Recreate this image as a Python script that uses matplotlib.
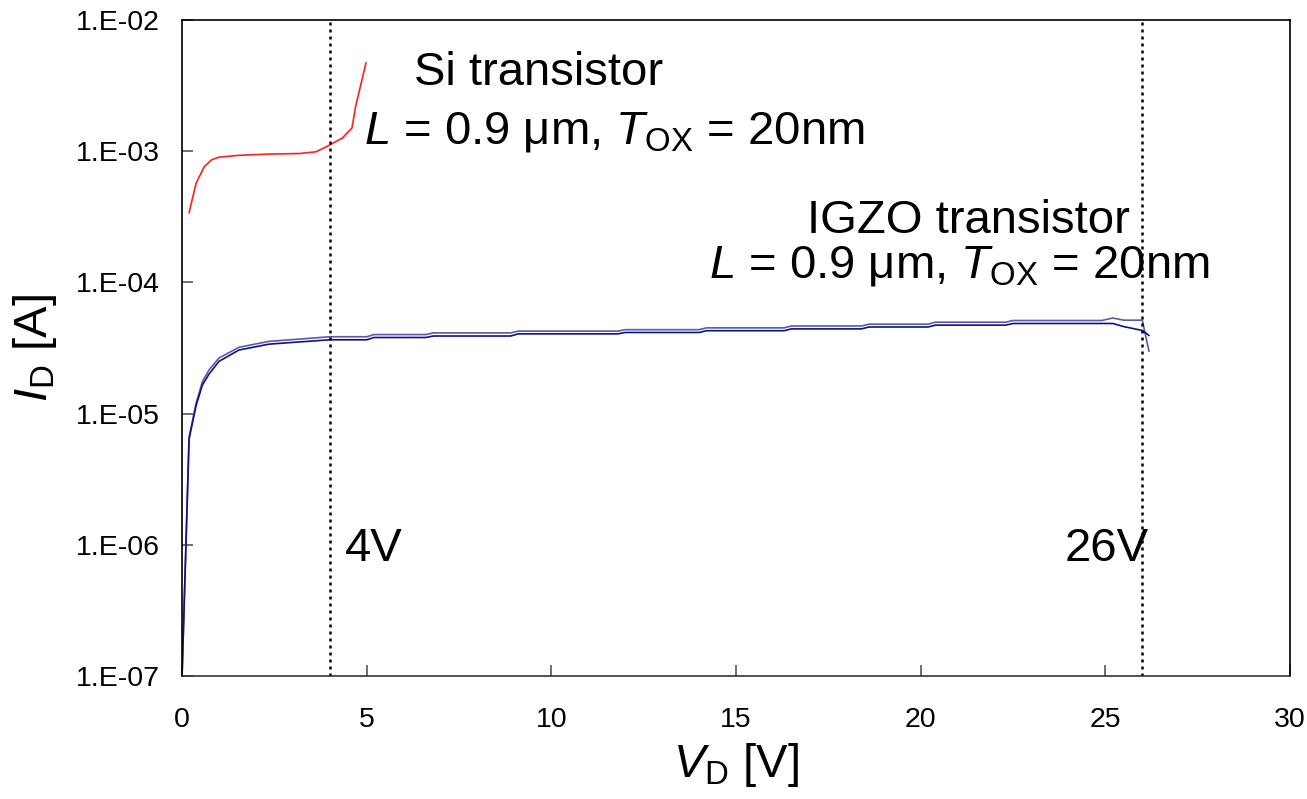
import numpy as np
import matplotlib.pyplot as plt
from matplotlib.ticker import FuncFormatter, NullLocator

plt.rcParams['font.family'] = ['Liberation Sans', 'DejaVu Sans']
plt.rcParams['mathtext.fontset'] = 'custom'
plt.rcParams['mathtext.rm'] = 'Liberation Sans'
plt.rcParams['mathtext.it'] = 'Liberation Sans:italic'

# Si transistor I_D-V_D (red)
si_vd = [0.19, 0.38, 0.6, 0.8, 1.0, 1.54, 2.35, 3.2, 3.63, 3.96, 4.34, 4.6, 4.7, 4.98]
si_id = [3.4e-4, 5.7e-4, 7.6e-4, 8.6e-4, 9.0e-4, 9.3e-4, 9.5e-4, 9.6e-4, 9.9e-4,
         1.1e-3, 1.26e-3, 1.5e-3, 2.2e-3, 4.7e-3]

# IGZO transistor, two sweeps (blue)
igzo_vd = [0, 0.19, 0.38, 0.55, 0.73, 1.0, 1.54, 2.35, 3.2, 4.0, 5.0, 5.2,
           6.6, 6.8, 8.9, 9.1, 11.8, 12.0, 14.0, 14.2, 16.3, 16.5, 18.4, 18.6,
           20.2, 20.4, 22.3, 22.5, 24.9, 25.2, 25.5, 26.0, 26.18]
igzo_up = [1e-7, 6.6e-6, 1.2e-5, 1.75e-5, 2.15e-5, 2.65e-5, 3.2e-5, 3.55e-5,
           3.7e-5, 3.85e-5, 3.85e-5, 4.0e-5, 4.0e-5, 4.12e-5, 4.12e-5, 4.25e-5,
           4.25e-5, 4.36e-5, 4.36e-5, 4.5e-5, 4.5e-5, 4.65e-5, 4.65e-5, 4.8e-5,
           4.8e-5, 4.97e-5, 4.97e-5, 5.12e-5, 5.12e-5, 5.35e-5, 5.15e-5, 5.15e-5, 3.0e-5]
igzo_dn = [1e-7, 6.4e-6, 1.15e-5, 1.65e-5, 2.0e-5, 2.5e-5, 3.05e-5, 3.38e-5,
           3.52e-5, 3.65e-5, 3.65e-5, 3.8e-5, 3.8e-5, 3.9e-5, 3.9e-5, 4.05e-5,
           4.05e-5, 4.15e-5, 4.15e-5, 4.28e-5, 4.28e-5, 4.42e-5, 4.42e-5, 4.57e-5,
           4.57e-5, 4.72e-5, 4.72e-5, 4.86e-5, 4.86e-5, 4.86e-5, 4.6e-5, 4.3e-5, 3.94e-5]

marks_v = [4, 26]
mark_labels = ['4V', '26V']

fig = plt.figure(figsize=(13.07, 7.99), dpi=100)
ax = fig.add_axes([0.1393, 0.154, 0.8477, 0.821])

ax.plot(si_vd, si_id, color='#ff2020', lw=1.2)
ax.plot(igzo_vd, igzo_up, color='#5a5aa8', lw=1.2)
ax.plot(igzo_vd, igzo_dn, color='#10108a', lw=1.2)

for v in marks_v:
    ax.axvline(v, color='black', lw=1.8, linestyle=(0, (1.2, 1.6)))

ax.set_yscale('log')
ax.set_xlim(0, 30)
ax.set_ylim(1e-7, 1e-2)
ax.set_xticks(np.arange(0, 31, 5))
ax.set_yticks([1e-7, 1e-6, 1e-5, 1e-4, 1e-3, 1e-2])
ax.yaxis.set_minor_locator(NullLocator())
ax.yaxis.set_major_formatter(FuncFormatter(
    lambda y, p: '1.E-%02d' % int(round(-np.log10(y)))))
ax.tick_params(direction='in', length=8, width=1.2, color='#555555',
               labelsize=20.5)
ax.tick_params(axis='x', pad=22)
ax.tick_params(axis='y', pad=16)
for s in ax.spines.values():
    s.set_linewidth(1.2)
ax.spines['bottom'].set_color('#333333')

ax.set_xlabel(r'$V_{\mathrm{D}}$ [V]', fontsize=34, labelpad=6)
ax.set_ylabel(r'$I_{\mathrm{D}}$ [A]', fontsize=34, labelpad=12)

fs = 34
ax.text(6.29, 10**-2.496, 'Si transistor', fontsize=fs, va='baseline')
ax.text(4.93, 10**-2.939, r'$L$ = 0.9 μm, $T_{\mathrm{OX}}$ = 20nm', fontsize=fs, va='baseline')
ax.text(25.66, 10**-3.626, 'IGZO transistor', fontsize=fs, va='baseline', ha='right')
ax.text(27.83, 10**-3.962, r'$L$ = 0.9 μm, $T_{\mathrm{OX}}$ = 20nm', fontsize=fs,
        va='baseline', ha='right')
ax.text(4.42, 10**-6.122, mark_labels[0], fontsize=fs, va='baseline')
ax.text(23.9, 10**-6.122, mark_labels[1], fontsize=fs, va='baseline')

fig.savefig('out.png', dpi=100)
